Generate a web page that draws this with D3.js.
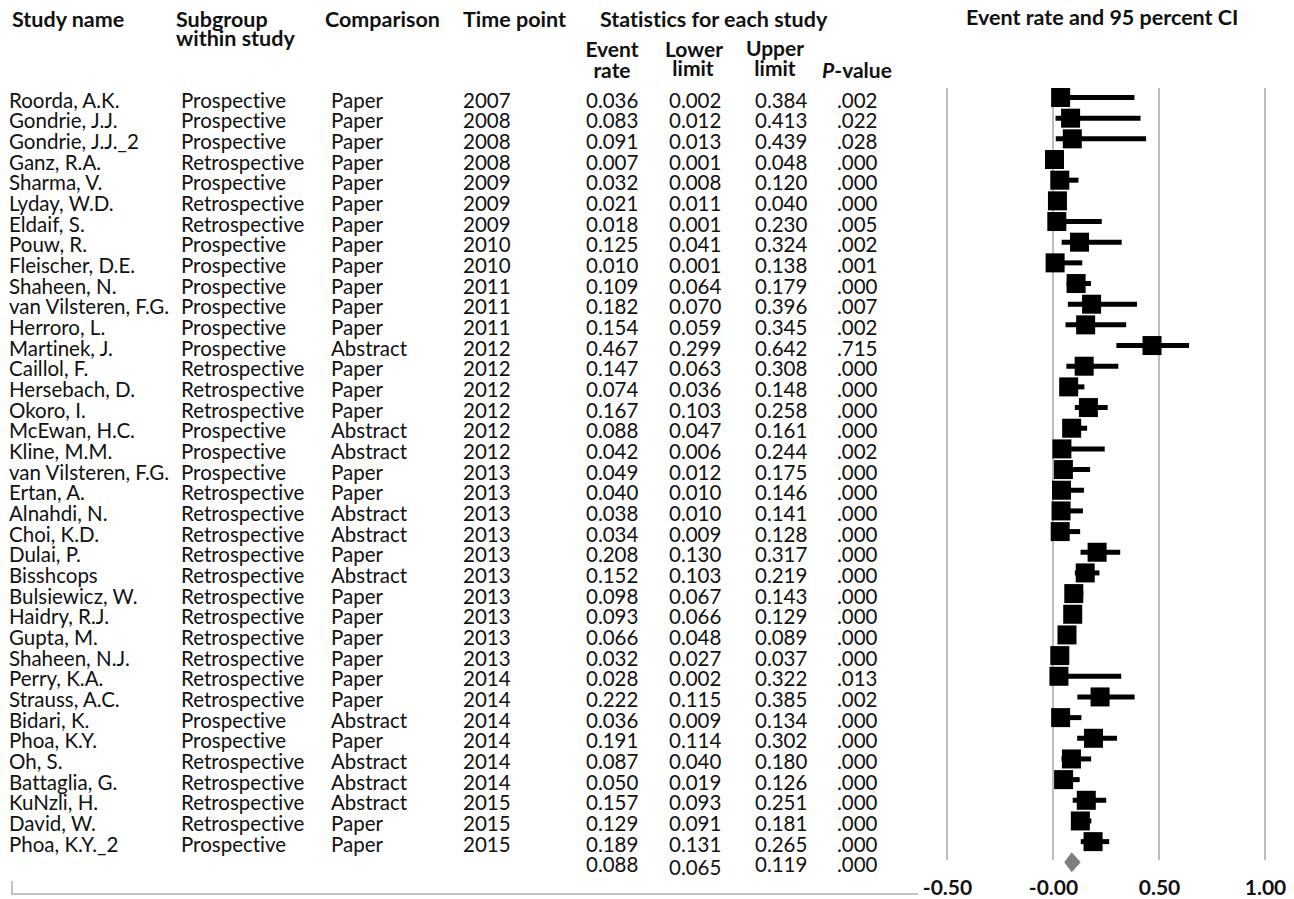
<!DOCTYPE html>
<html>
<head>
<meta charset="utf-8">
<script src="https://cdn.jsdelivr.net/npm/d3@7"></script>
<style>
  body { margin: 0; background: #fff; }
  text { font-family: Lato, "Open Sans", sans-serif; fill: #111; font-variant-ligatures: none; }
</style>
</head>
<body>
<svg id="forest"></svg>
<script>
// ---- data ----
var studies = ["Roorda, A.K.", "Gondrie, J.J.", "Gondrie, J.J._2", "Ganz, R.A.", "Sharma, V.", "Lyday, W.D.",
  "Eldaif, S.", "Pouw, R.", "Fleischer, D.E.", "Shaheen, N.", "van Vilsteren, F.G.", "Herroro, L.",
  "Martinek, J.", "Caillol, F.", "Hersebach, D.", "Okoro, I.", "McEwan, H.C.", "Kline, M.M.",
  "van Vilsteren, F.G.", "Ertan, A.", "Alnahdi, N.", "Choi, K.D.", "Dulai, P.", "Bisshcops",
  "Bulsiewicz, W.", "Haidry, R.J.", "Gupta, M.", "Shaheen, N.J.", "Perry, K.A.", "Strauss, A.C.",
  "Bidari, K.", "Phoa, K.Y.", "Oh, S.", "Battaglia, G.", "KuNzli, H.", "David, W.", "Phoa, K.Y._2"]

var subgroups = ["Prospective", "Prospective", "Prospective", "Retrospective", "Prospective", "Retrospective",
  "Retrospective", "Prospective", "Prospective", "Prospective", "Prospective", "Prospective",
  "Prospective", "Retrospective", "Retrospective", "Retrospective", "Prospective", "Prospective",
  "Prospective", "Retrospective", "Retrospective", "Retrospective", "Retrospective", "Retrospective",
  "Retrospective", "Retrospective", "Retrospective", "Retrospective", "Retrospective", "Retrospective",
  "Prospective", "Prospective", "Retrospective", "Retrospective", "Retrospective", "Retrospective", "Prospective"]

var comparisons = ["Paper", "Paper", "Paper", "Paper", "Paper", "Paper", "Paper", "Paper", "Paper", "Paper",
  "Paper", "Paper", "Abstract", "Paper", "Paper", "Paper", "Abstract", "Abstract", "Paper", "Paper",
  "Abstract", "Abstract", "Paper", "Abstract", "Paper", "Paper", "Paper", "Paper", "Paper", "Paper",
  "Abstract", "Paper", "Abstract", "Abstract", "Abstract", "Paper", "Paper"]

var years = [2007, 2008, 2008, 2008, 2009, 2009, 2009, 2010, 2010, 2011, 2011, 2011, 2012, 2012, 2012,
  2012, 2012, 2012, 2013, 2013, 2013, 2013, 2013, 2013, 2013, 2013, 2013, 2013, 2014, 2014, 2014,
  2014, 2014, 2014, 2015, 2015, 2015]

var eventRate = [0.036, 0.083, 0.091, 0.007, 0.032, 0.021, 0.018, 0.125, 0.010, 0.109, 0.182, 0.154,
  0.467, 0.147, 0.074, 0.167, 0.088, 0.042, 0.049, 0.040, 0.038, 0.034, 0.208, 0.152, 0.098, 0.093,
  0.066, 0.032, 0.028, 0.222, 0.036, 0.191, 0.087, 0.050, 0.157, 0.129, 0.189]

var lowerLimit = [0.002, 0.012, 0.013, 0.001, 0.008, 0.011, 0.001, 0.041, 0.001, 0.064, 0.070, 0.059,
  0.299, 0.063, 0.036, 0.103, 0.047, 0.006, 0.012, 0.010, 0.010, 0.009, 0.130, 0.103, 0.067, 0.066,
  0.048, 0.027, 0.002, 0.115, 0.009, 0.114, 0.040, 0.019, 0.093, 0.091, 0.131]

var upperLimit = [0.384, 0.413, 0.439, 0.048, 0.120, 0.040, 0.230, 0.324, 0.138, 0.179, 0.396, 0.345,
  0.642, 0.308, 0.148, 0.258, 0.161, 0.244, 0.175, 0.146, 0.141, 0.128, 0.317, 0.219, 0.143, 0.129,
  0.089, 0.037, 0.322, 0.385, 0.134, 0.302, 0.180, 0.126, 0.251, 0.181, 0.265]

var pValues = [".002", ".022", ".028", ".000", ".000", ".000", ".005", ".002", ".001", ".000", ".007", ".002",
  ".715", ".000", ".000", ".000", ".000", ".002", ".000", ".000", ".000", ".000", ".000", ".000", ".000",
  ".000", ".000", ".000", ".013", ".002", ".000", ".000", ".000", ".000", ".000", ".000", ".000"]

var summary = { rate: 0.088, lower: 0.065, upper: 0.119, p: ".000" }

var tickValues = [-0.5, 0, 0.5, 1]
var tickLabels = ["-0.50", "-0.00", "0.50", "1.00"]

// ---- layout ----
var dimensions = { width: 1294, height: 899 }
var fmt = d3.format(".3f")

var svg = d3.select("#forest")
            .attr("width", dimensions.width)
            .attr("height", dimensions.height)

var rows = studies.map(function(s, i) {
    return { name: s, sub: subgroups[i], comp: comparisons[i], year: years[i],
             rate: eventRate[i], lower: lowerLimit[i], upper: upperLimit[i], p: pValues[i], i: i }
})

var yScale = d3.scaleLinear()
            .domain([0, studies.length])
            .range([97.5, 862.3])

var xScale = d3.scaleLinear()
            .domain([-0.5, 1])
            .range([947, 1265])

// headers
var headers = [
    { t: "Study name", x: 12, y: 27 },
    { t: "Subgroup", x: 176, y: 27 },
    { t: "within study", x: 176, y: 46 },
    { t: "Comparison", x: 325, y: 27 },
    { t: "Time point", x: 463, y: 27 },
    { t: "Statistics for each study", x: 600, y: 27 },
    { t: "Event rate and 95 percent CI", x: 966, y: 25 }
]
svg.append("g").selectAll("text").data(headers).enter().append("text")
    .attr("x", d => d.x).attr("y", d => d.y)
    .style("font-size", "21.5px").style("font-weight", "bold")
    .text(d => d.t)

var subHeaders = [
    { t: "Event", x: 612, y: 57 }, { t: "rate", x: 612, y: 78 },
    { t: "Lower", x: 694, y: 57 }, { t: "limit", x: 693, y: 76 },
    { t: "Upper", x: 775, y: 56 }, { t: "limit", x: 775, y: 76 }
]
svg.append("g").selectAll("text").data(subHeaders).enter().append("text")
    .attr("x", d => d.x).attr("y", d => d.y)
    .attr("text-anchor", "middle")
    .style("font-size", "21px").style("font-weight", "bold")
    .text(d => d.t)

var pHead = svg.append("text").attr("x", 857).attr("y", 78)
    .attr("text-anchor", "middle")
    .style("font-size", "21px").style("font-weight", "bold")
pHead.append("tspan").style("font-style", "italic").text("P")
pHead.append("tspan").text("-value")

// table columns
var columns = [
    { x: 9, f: d => d.name },
    { x: 181, f: d => d.sub },
    { x: 331, f: d => d.comp },
    { x: 463, f: d => d.year },
    { x: 586, f: d => fmt(d.rate) },
    { x: 669, f: d => fmt(d.lower) },
    { x: 755, f: d => fmt(d.upper) },
    { x: 837, f: d => d.p }
]

var table = svg.append("g").style("font-size", "20.5px")
columns.forEach(function(c) {
    table.append("g").selectAll("text")
        .data(rows).enter().append("text")
        .attr("x", c.x)
        .attr("y", d => yScale(d.i) + 10)
        .text(c.f)
})

// summary row numbers
var sumVals = [fmt(summary.rate), fmt(summary.lower), fmt(summary.upper), summary.p]
table.append("g").selectAll("text")
    .data(sumVals).enter().append("text")
    .attr("x", (d, i) => columns[4 + i].x)
    .attr("y", (d, i) => yScale(studies.length) + 10 + (i == 1 ? 3 : 0))
    .text(d => d)

// grid lines
svg.append("g").selectAll("line")
    .data(tickValues).enter().append("line")
    .attr("x1", d => xScale(d)).attr("x2", d => xScale(d))
    .attr("y1", 88).attr("y2", 860)
    .attr("stroke", "#bdbdbd").attr("stroke-width", 2)

// x axis labels
var xAxis = d3.axisBottom(xScale)
    .tickValues(tickValues)
    .tickFormat((d, i) => tickLabels[i])
    .tickSize(0)
var axisG = svg.append("g").attr("transform", "translate(0,875)").call(xAxis)
axisG.select(".domain").remove()
axisG.selectAll("text")
    .attr("y", 0).attr("dy", "0.95em")
    .style("font-family", "Lato, sans-serif")
    .style("font-size", "21px").style("font-weight", "bold")
    .style("fill", "#111")

// CI lines and squares
var plot = svg.append("g")
plot.selectAll(".ci").data(rows).enter().append("line")
    .attr("x1", d => xScale(d.lower)).attr("x2", d => xScale(d.upper))
    .attr("y1", d => yScale(d.i)).attr("y2", d => yScale(d.i))
    .attr("stroke", "#000").attr("stroke-width", 5)

var sq = 19
plot.selectAll(".sq").data(rows).enter().append("rect")
    .attr("x", d => xScale(d.rate) - sq / 2)
    .attr("y", d => yScale(d.i) - sq / 2)
    .attr("width", sq).attr("height", sq)
    .attr("fill", "#000")

// summary diamond (drawn a little wider than the CI, as in the source)
var yd = yScale(studies.length)
var pad = 2.5
plot.append("path")
    .attr("d", "M" + (xScale(summary.lower) - pad) + "," + yd +
               "L" + xScale(summary.rate) + "," + (yd - 10) +
               "L" + (xScale(summary.upper) + pad) + "," + yd +
               "L" + xScale(summary.rate) + "," + (yd + 10) + "Z")
    .attr("fill", "#7f7f7f")

// bottom rule of the table
svg.append("path")
    .attr("d", "M12,881V894H918")
    .attr("fill", "none").attr("stroke", "#b0b0b0").attr("stroke-width", 1.5)
</script>
</body>
</html>
